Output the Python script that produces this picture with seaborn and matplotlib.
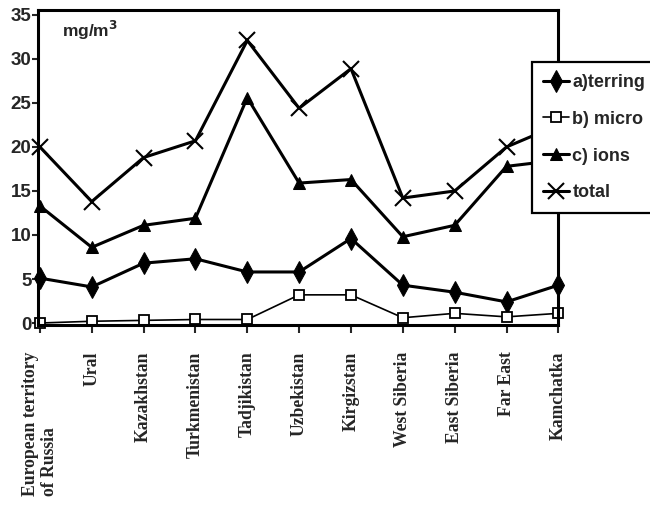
import numpy as np
import pandas as pd
import matplotlib
matplotlib.use("Agg")
import matplotlib.pyplot as plt
import seaborn as sns

regions = ['European territory\nof Russia', 'Ural', 'Kazakhstan', 'Turkmenistan',
           'Tadjikistan', 'Uzbekistan', 'Kirgizstan', 'West Siberia',
           'East Siberia', 'Far East', 'Kamchatka']
terring = [5.1, 4.1, 6.8, 7.3, 5.8, 5.8, 9.6, 4.3, 3.5, 2.4, 4.3]
micro = [0.0, 0.2, 0.3, 0.4, 0.4, 3.2, 3.2, 0.6, 1.1, 0.7, 1.1]
ions = [13.3, 8.6, 11.1, 11.9, 25.6, 15.9, 16.3, 9.8, 11.1, 17.8, 18.5]
total = [20.0, 13.8, 18.8, 20.7, 32.1, 24.4, 28.9, 14.2, 15.0, 20.0, 22.5]

sns.set_theme(style='white')
plt.rcParams['font.family'] = ['Liberation Sans', 'DejaVu Sans']
plt.rcParams['font.weight'] = 'bold'

df = pd.DataFrame({'pos': np.arange(len(regions)), 'region': regions,
                   'terring': terring, 'micro': micro, 'ions': ions, 'total': total})

fig = plt.figure(figsize=(6.5, 5.05), dpi=100)
ax = fig.add_axes([0.059, 0.356, 0.800, 0.624])

sns.lineplot(data=df, x='pos', y='terring', ax=ax, color='black', lw=2.2,
             marker='d', markersize=11, markeredgecolor='black', label='a)terring')
sns.lineplot(data=df, x='pos', y='micro', ax=ax, color='black', lw=1.2,
             marker='s', markersize=7, markerfacecolor='white', markeredgecolor='black',
             markeredgewidth=1.3, label='b) micro')
sns.lineplot(data=df, x='pos', y='ions', ax=ax, color='black', lw=2.2,
             marker='^', markersize=8, markeredgecolor='black', label='c) ions')
sns.lineplot(data=df, x='pos', y='total', ax=ax, color='black', lw=2.2,
             marker='x', markersize=11, markeredgewidth=1.5, markeredgecolor='black',
             label='total')
for ln in ax.lines:
    ln.set_clip_on(False)

ax.set_xlim(-0.03, 10.0)
ax.set_ylim(-0.25, 35.55)
ax.set_yticks(range(0, 36, 5))
ax.set_xticks(df['pos'])
ax.set_xticklabels(df['region'], rotation=90, va='top', ha='center',
                   multialignment='left', family=['Liberation Serif'],
                   fontweight='bold', fontsize=12.7)
ax.tick_params(axis='x', direction='out', length=6, width=1.5, pad=13, bottom=True)
ax.tick_params(axis='y', direction='out', length=4, width=1.5, pad=1, left=True,
               labelsize=13.5)
for lab in ax.get_yticklabels():
    lab.set_fontweight('bold')
ax.set_xlabel('')
ax.set_ylabel('')
for sp in ax.spines.values():
    sp.set_visible(True)
    sp.set_color('black')
    sp.set_linewidth(2.2)

ax.text(0.046, 0.935, 'mg/m$^\\mathbf{3}$', transform=ax.transAxes, fontsize=12.5,
        fontweight='bold', va='center', ha='left')

leg = ax.legend(loc='upper left', bbox_to_anchor=(0.818, 0.877),
                bbox_transform=fig.transFigure, frameon=True, fancybox=False,
                edgecolor='black', fontsize=13, labelspacing=1.1,
                handlelength=1.4, handletextpad=0.2, borderpad=0.65,
                borderaxespad=0)
leg.get_frame().set_linewidth(1.6)
leg.get_frame().set_alpha(1)
for t in leg.get_texts():
    t.set_fontweight('bold')

fig.savefig('out.png', dpi=100)
